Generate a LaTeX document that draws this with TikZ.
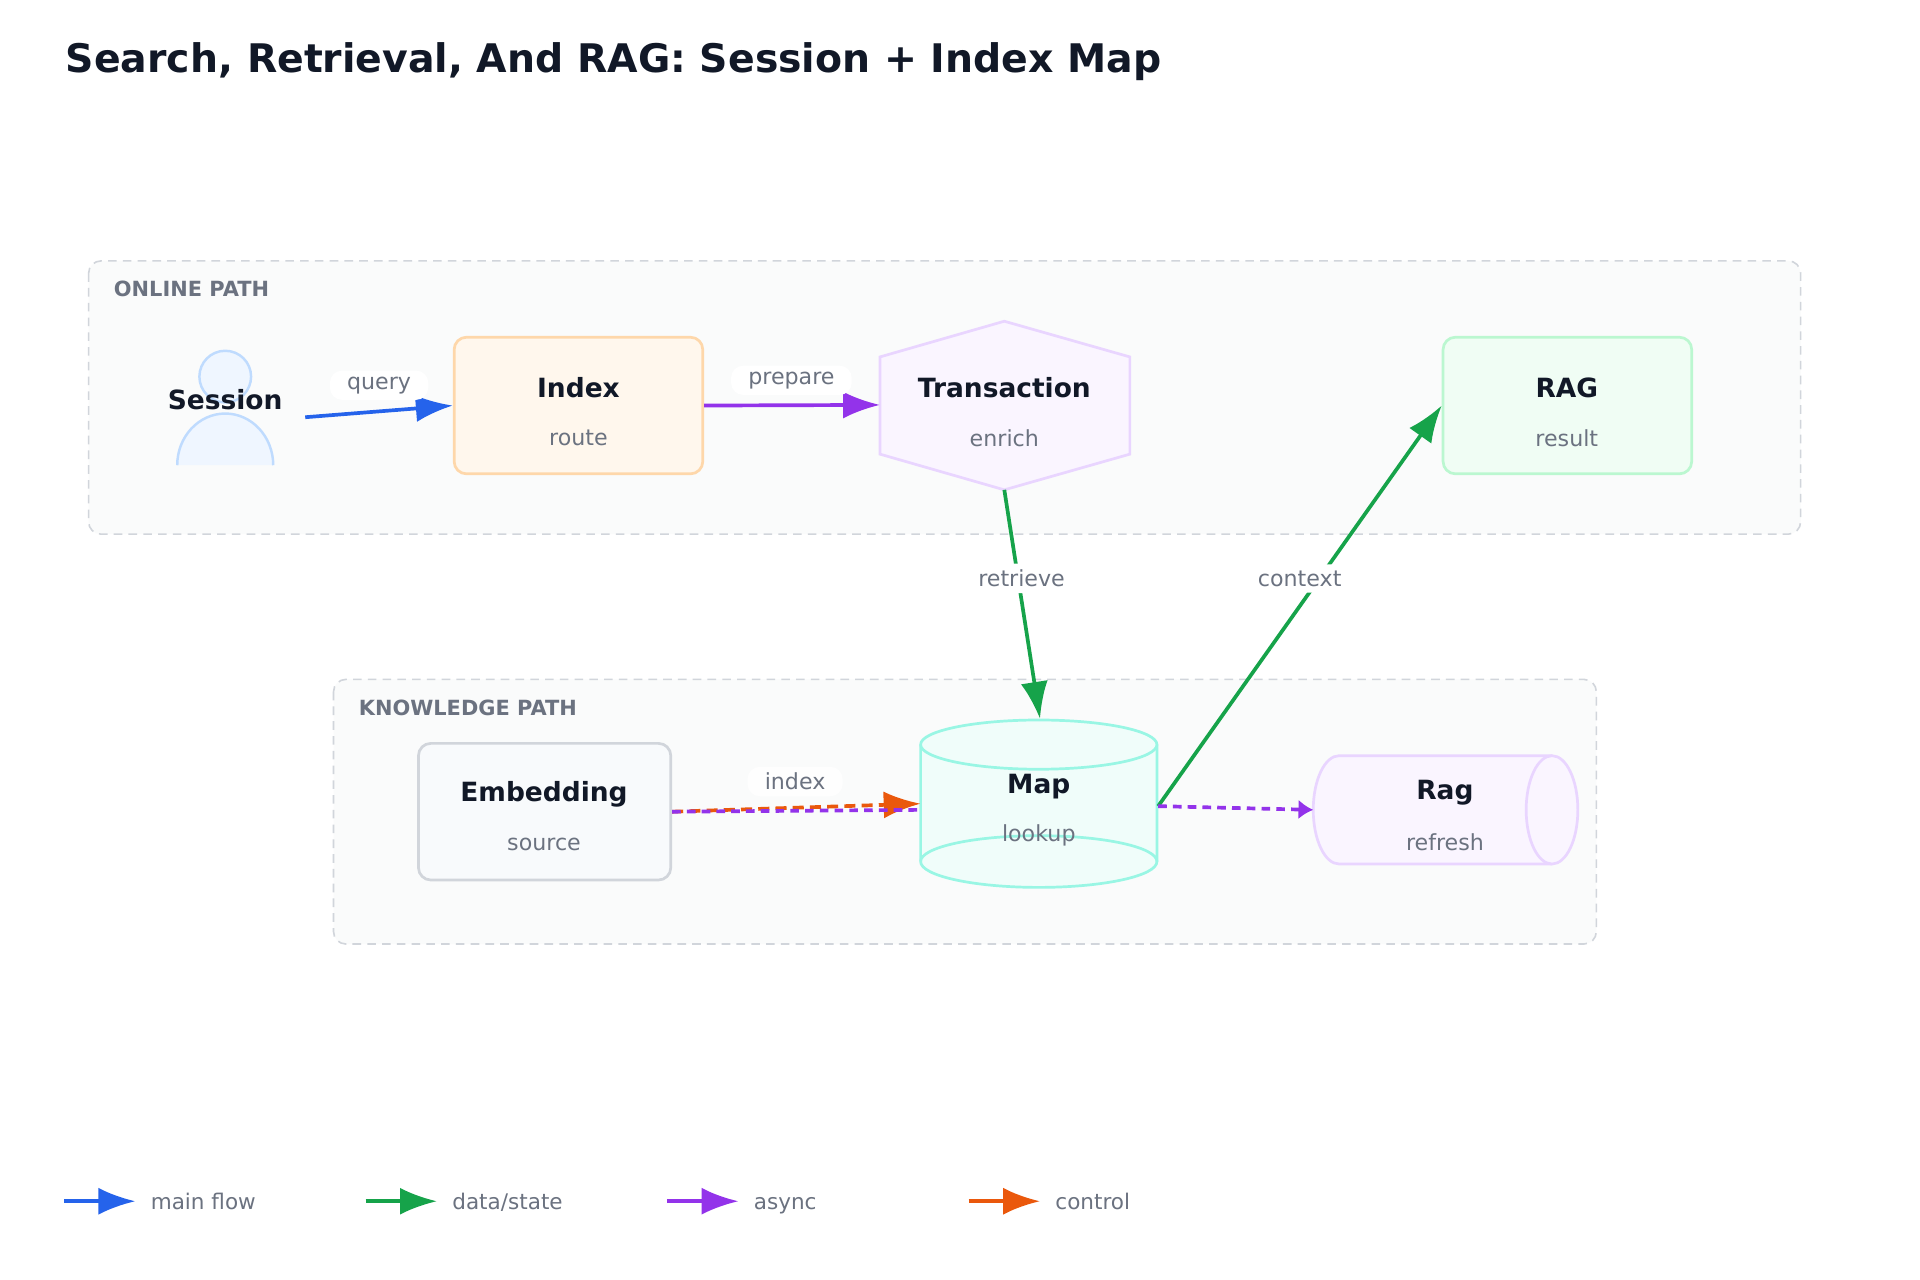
\documentclass[tikz,border=0pt]{standalone}
\usepackage{fontspec}
\setmainfont{DejaVu Sans}
\usetikzlibrary{arrows.meta}
\definecolor{ink}{HTML}{111827}
\definecolor{sub}{HTML}{6B7280}
\definecolor{grp}{HTML}{D1D5DB}
\definecolor{grpfill}{HTML}{FAFBFB}
\definecolor{cblue}{HTML}{2563EB}
\definecolor{cgreen}{HTML}{16A34A}
\definecolor{cpurple}{HTML}{9333EA}
\definecolor{corange}{HTML}{EA580C}
\definecolor{sesD}{HTML}{BFDBFE}\definecolor{sesF}{HTML}{EFF6FF}
\definecolor{idxD}{HTML}{FED7AA}\definecolor{idxF}{HTML}{FFF7ED}
\definecolor{vioD}{HTML}{E9D5FF}\definecolor{vioF}{HTML}{FAF5FF}
\definecolor{grnD}{HTML}{BBF7D0}\definecolor{grnF}{HTML}{F0FDF4}
\definecolor{tealD}{HTML}{99F6E4}\definecolor{tealF}{HTML}{F0FDFA}
\definecolor{embF}{HTML}{F8FAFC}
\tikzset{
 grpbox/.style={draw=grp,line width=1.3pt,fill=grpfill,rounded corners=10pt,dash pattern=on 7pt off 5pt},
 grplab/.style={anchor=west,text=sub,font=\fontsize{17}{20}\selectfont\bfseries},
 ttl/.style={text=ink,font=\fontsize{21.5}{26}\selectfont\bfseries},
 sbt/.style={text=sub,font=\fontsize{18}{22}\selectfont},
 elab/.style={text=sub,font=\fontsize{18}{22}\selectfont,fill=white,rounded corners=10pt,inner xsep=14pt,inner ysep=5pt},
 arr/.style={line width=3pt,-{Latex[length=30pt,width=22pt]}},
 box/.style={draw,line width=2.2pt,rounded corners=10pt,minimum width=202pt,minimum height=111pt},
}
\begin{document}
\begin{tikzpicture}[x=1pt,y=-1pt]
\useasboundingbox[fill=white] (0,0) rectangle (1560,1040);
\node[anchor=west,text=ink,font=\fontsize{32}{38}\selectfont\bfseries] (title) at (50,50) {Search, Retrieval, And RAG: Session + Index Map};
% groups
\draw[grpbox] (72,212) rectangle (1463,434);
\node[grplab] (g1) at (89,235) {ONLINE PATH};
\draw[grpbox] (271,552) rectangle (1297,767);
\node[grplab] (g2) at (288,575) {KNOWLEDGE PATH};
% session
\draw[draw=sesD,fill=sesF,line width=2pt] (183,306) circle (21);
\draw[draw=sesD,fill=sesF,line width=2pt] (144,378) arc[start angle=180,end angle=0,x radius=39,y radius=-42];
\node[ttl] (session) at (183,325) {Session};
\coordinate (sessR) at (248,339);
% index
\node[box,draw=idxD,fill=idxF] (index) at (470,329.5) {};
\node[ttl] (indexT) at (470,315) {Index};
\node[sbt] (indexS) at (470,356) {route};
% transaction
\draw[draw=vioD,fill=vioF,line width=2.2pt] (816,261)--(918,290)--(918,369)--(816,398)--(715,369)--(715,290)--cycle;
\coordinate (trL) at (715,329); \coordinate (trB) at (816,398);
\node[ttl] (trT) at (816,315) {Transaction};
\node[sbt] (trS) at (816,356) {enrich};
% RAG
\node[box,draw=grnD,fill=grnF] (rag) at (1273.5,329.5) {};
\node[ttl] (ragT) at (1273,315) {RAG};
\node[sbt] (ragS) at (1273,356) {result};
% embedding
\node[box,draw=grp,fill=embF,minimum width=205pt] (emb) at (442.5,659.5) {};
\node[ttl] (embT) at (442,645) {Embedding};
\node[sbt] (embS) at (442,686) {source};
% map cylinder
\draw[draw=tealD,fill=tealF,line width=2.2pt] (748,605)--(748,700) arc[start angle=180,end angle=360,x radius=96,y radius=-21] -- (940,605);
\draw[draw=tealD,fill=tealF,line width=2.2pt] (844,605) ellipse[x radius=96,y radius=20];
\draw[draw=tealD,line width=2.2pt] (748,700) arc[start angle=180,end angle=0,x radius=96,y radius=-21];
\coordinate (mapT) at (845,584); \coordinate (mapL) at (748,655); \coordinate (mapR) at (941,655);
\node[ttl] (mapN) at (844,639) {Map};
\node[sbt] (mapS) at (844,679) {lookup};
% rag cylinder
\draw[draw=vioD,fill=vioF,line width=2.2pt] (1261,614)--(1088,614) arc[start angle=90,end angle=270,x radius=21,y radius=-44] -- (1261,702);
\draw[draw=vioD,fill=vioF,line width=2.2pt] (1261,658) ellipse[x radius=21,y radius=44];
\coordinate (rgL) at (1067,658);
\node[ttl] (rgT) at (1174,644) {Rag};
\node[sbt] (rgS) at (1174,684) {refresh};
% edges
\draw[arr,cblue] (sessR) -- (index.west);
\node[elab] (lq) at (308,313) {query};
\draw[arr,cpurple] (index.east) -- (trL);
\node[elab] (lp) at (643,309) {prepare};
\draw[arr,cgreen] (trB) -- (mapT);
\node[elab,inner xsep=4pt] (lr) at (830,470) {retrieve};
\draw[arr,cgreen] (mapR) -- (rag.west);
\node[elab,inner xsep=4pt] (lc) at (1056,470) {context};
\draw[arr,corange,dash pattern=on 9pt off 5pt] (emb.east) -- (748,653);
\draw[cpurple,line width=3pt,dash pattern=on 7pt off 5pt] (emb.east) -- (748,658);
\node[elab,fill opacity=0.8,text opacity=1] (li) at (646,635) {index};
\draw[cpurple,line width=3pt,dash pattern=on 7pt off 5pt,-{Latex[length=12pt,width=16pt]}] (mapR) -- (rgL);
% legend
\foreach \x/\c/\t [count=\i] in {52/cblue/main flow,297/cgreen/data\slash state,542/cpurple/async,787/corange/control}{
 \coordinate (ls\i) at (\x,976);
 \coordinate (le\i) at (\x+58,976);
 \draw[arr,\c] (ls\i) -- (le\i);
 \node[anchor=base west,text=sub,font=\fontsize{17.5}{22}\selectfont] (lt\i) at (\x+67,982.5) {\t};
}
\end{tikzpicture}
\end{document}
